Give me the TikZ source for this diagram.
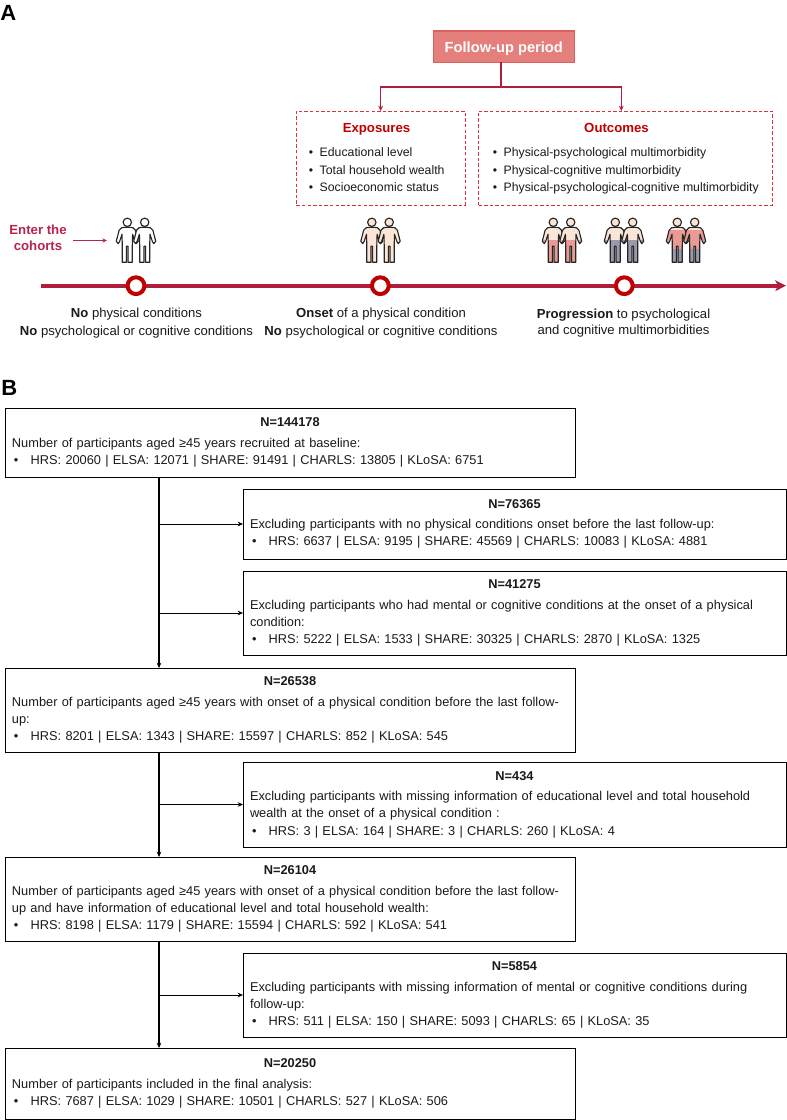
\documentclass[tikz,border=0pt]{standalone}
\usepackage{fontspec}
\setmainfont{Liberation Sans}
\usetikzlibrary{arrows.meta}
\usetikzlibrary{positioning}

\definecolor{lineRed}{HTML}{B01E3E}
\definecolor{ringRed}{HTML}{C00000}
\definecolor{dashRed}{HTML}{E0303C}
\definecolor{headRed}{HTML}{C00000}
\definecolor{enterRed}{HTML}{B8244A}
\definecolor{boxPink}{HTML}{E57F7B}
\definecolor{boxEdge}{HTML}{D9605F}
\definecolor{skinTone}{HTML}{FBE5D6}
\definecolor{pinkTone}{HTML}{E99A94}
\definecolor{greyTone}{HTML}{9C98AC}
\definecolor{darkText}{HTML}{1A1A1A}

\newcommand{\personshape}{(-2.5,5) -- (-5.8,5.5) -- (-8.2,8) -- (-11,19) -- (-9,21.3) -- (-7.6,19) -- (-5.3,12) -- (-5,23) -- (-5,40) -- (-0.8,40) -- (-0.8,24) -- (0.8,24) -- (0.8,40) -- (5,40) -- (5,23) -- (5.3,12) -- (7.6,19) -- (9,21.3) -- (11,19) -- (8.2,8) -- (5.8,5.5) -- (2.5,5) -- cycle}
\newcommand{\flowtext}[3]{\vspace*{1.5pt}{\centering\textbf{#1}\par}\vspace{1pt}\raggedright #2\par\hspace*{1.5pt}\makebox[12.5pt][l]{\textbullet}#3\par}

\tikzset{
  panellabel/.style={font=\fontsize{16.5}{18}\selectfont\bfseries,inner sep=0pt,anchor=west},
  flowbox/.style={draw=black,line width=0.65pt,inner xsep=5.25pt,inner ysep=0pt,outer sep=0pt,anchor=north west,font=\fontsize{9.6}{12.9}\selectfont,text=darkText},
  basebox/.style={flowbox,text width=417pt},
  exclbox/.style={flowbox,text width=396.75pt},
  flowline/.style={draw=black,line width=0.65pt},
  flowarrow/.style={flowline,-{Stealth[length=4pt,width=3.5pt]}},
  trunkarrow/.style={flowarrow,line width=0.85pt},
  dashbox/.style={draw=dashRed,line width=0.6pt,dash pattern=on 2.6pt off 1.6pt,inner sep=0pt,outer sep=0pt,anchor=north west},
  redline/.style={draw=lineRed,line width=0.9pt},
  headtext/.style={font=\fontsize{9.9}{11}\selectfont\bfseries,text=headRed,inner sep=0pt,anchor=base},
  listtext/.style={font=\fontsize{9.2}{13}\selectfont,text=darkText,inner sep=0pt,anchor=west,align=left},
  steptext/.style={font=\fontsize{9.83}{13.5}\selectfont,text=darkText,inner sep=0pt,align=center},
  stepring/.style={circle,draw=ringRed,fill=white,line width=3pt,minimum size=12.6pt,inner sep=0pt,outer sep=0pt},
  personline/.style={draw=black!85,line width=0.85pt,line join=round},
  pics/couple/.style n args={5}{code={
    \foreach \headx in {-8.7,8.7}{
      \begin{scope}[shift={(\headx,0)}]
        \begin{scope}
          \clip \personshape;
          \fill[#1] (-12,0) rectangle (12,#4);
          \fill[#2] (-12,#4) rectangle (12,#5);
          \fill[#3] (-12,#5) rectangle (12,41);
        \end{scope}
        \draw[personline] \personshape;
        \draw[personline,fill=#1] (0,0) circle (4.2);
      \end{scope}
    }
  }},
}

\begin{document}
\begin{tikzpicture}[x=0.75pt,y=-0.75pt]
\useasboundingbox (0,0) rectangle (787,1120);

\node[panellabel] (labelA) at (0,13) {A};
\node[panellabel] (labelB) at (1,388) {B};

% follow-up period
\node[draw=boxEdge,fill=boxPink,line width=0.8pt,minimum width=105.75pt,minimum height=23.6pt,inner sep=0pt,outer sep=0pt,anchor=north west,text=white,text height=8.2pt,text depth=0pt,font=\fontsize{11}{13}\selectfont\bfseries] (follow) at (433.3,31) {Follow-up period};
\node[dashbox,minimum width=126.5pt,minimum height=70.6pt] (exposures) at (296.3,111) {};
\node[dashbox,minimum width=220.2pt,minimum height=70.6pt] (outcomes) at (478.5,111) {};
\coordinate (split) at (501,87);
\draw[redline] (follow.south -| split) -- (split);
\draw[redline,-{Stealth[length=4pt,width=3.6pt]}] (split) -| (exposures.north);
\draw[redline,-{Stealth[length=4pt,width=3.6pt]}] (split) -| ([xshift=-3pt]outcomes.north);

\node[headtext] (exphead) at (376.5,132.3) {Exposures};
\node[headtext] (outhead) at (616.5,132.6) {Outcomes};
\node[listtext] (explist) at (308.5,169.7) {\textbullet\hspace{5pt}Educational level\\\textbullet\hspace{5pt}Total household wealth\\\textbullet\hspace{5pt}Socioeconomic status};
\node[listtext] (outlist) at (492.5,171) {\textbullet\hspace{5pt}Physical-psychological multimorbidity\\\textbullet\hspace{5pt}Physical-cognitive multimorbidity\\\textbullet\hspace{5pt}Physical-psychological-cognitive multimorbidity};

% people
\pic (groupA) at (136,222.3) {couple={white}{white}{white}{10}{20}};
\pic (groupB) at (380.5,222.3) {couple={skinTone}{skinTone}{skinTone}{10}{20}};
\pic (groupC) at (562,222.3) {couple={skinTone}{skinTone}{pinkTone}{10}{17.7}};
\pic (groupD) at (624,222.3) {couple={skinTone}{skinTone}{greyTone}{10}{17.7}};
\pic (groupE) at (686,222.3) {couple={skinTone}{pinkTone}{greyTone}{8}{27}};

\node[font=\fontsize{9.9}{11.8}\selectfont\bfseries,text=enterRed,inner sep=0pt,align=center] (enter) at (38,237.5) {Enter the\\cohorts};
\coordinate (enterEnd) at (107,240.5);
\draw[draw=enterRed,line width=0.7pt,-{Stealth[length=3.5pt,width=3.2pt]}] (enter.east |- enterEnd) ++(6,0) -- (enterEnd);

% timeline
\coordinate (lineStart) at (41,285.7);
\coordinate (lineEnd) at (786,285.7);
\draw[draw=lineRed,line width=2.7pt,-{Stealth[length=8pt,width=8pt,inset=2pt]}] (lineStart) -- (lineEnd);
\node[stepring] (stepA) at (136,285.7) {};
\node[stepring] (stepB) at (380.3,285.7) {};
\node[stepring] (stepC) at (624.3,285.7) {};

\node[steptext] (textA) at (136.5,323) {\textbf{No} physical conditions\\\textbf{No} psychological or cognitive conditions};
\node[steptext] (textB) at (381,323) {\textbf{Onset} of a physical condition\\\textbf{No} psychological or cognitive conditions};
\node[steptext,font=\fontsize{9.83}{11.9}\selectfont] (textC) at (623.5,323.2) {\textbf{Progression} to psychological\\and cognitive multimorbidities};

% flow chart
\coordinate (trunk) at (159,0);
\node[basebox,minimum height=51.75pt] (recruited) at (5,408) {\flowtext{N=144178}{Number of participants aged ≥45 years recruited at baseline:}{HRS: 20060 | ELSA: 12071 | SHARE: 91491 | CHARLS: 13805 | KLoSA: 6751}};
\node[exclbox,minimum height=52.5pt] (exclA) at (243,489) {\flowtext{N=76365}{Excluding participants with no physical conditions onset before the last follow-up:}{HRS: 6637 | ELSA: 9195 | SHARE: 45569 | CHARLS: 10083 | KLoSA: 4881}};
\node[exclbox,minimum height=63pt] (exclB) at (243,571) {\flowtext{N=41275}{Excluding participants who had mental or cognitive conditions at the onset of a physical\\condition:}{HRS: 5222 | ELSA: 1533 | SHARE: 30325 | CHARLS: 2870 | KLoSA: 1325}};
\node[basebox,minimum height=63pt] (onset) at (5,668) {\flowtext{N=26538}{Number of participants aged ≥45 years with onset of a physical condition before the last follow-\\up:}{HRS: 8201 | ELSA: 1343 | SHARE: 15597 | CHARLS: 852 | KLoSA: 545}};
\node[exclbox,minimum height=63.75pt] (exclC) at (243,762) {\flowtext{N=434}{Excluding participants with missing information of educational level and total household\\wealth at the onset of a physical condition :}{HRS: 3 | ELSA: 164 | SHARE: 3 | CHARLS: 260 | KLoSA: 4}};
\node[basebox,minimum height=63pt] (informed) at (5,857) {\flowtext{N=26104}{Number of participants aged ≥45 years with onset of a physical condition before the last follow-\\up and have information of educational level and total household wealth:}{HRS: 8198 | ELSA: 1179 | SHARE: 15594 | CHARLS: 592 | KLoSA: 541}};
\node[exclbox,minimum height=63pt] (exclD) at (243,953) {\flowtext{N=5854}{Excluding participants with missing information of mental or cognitive conditions during\\follow-up:}{HRS: 511 | ELSA: 150 | SHARE: 5093 | CHARLS: 65 | KLoSA: 35}};
\node[basebox,minimum height=53.25pt] (final) at (5,1048) {\flowtext{N=20250}{Number of participants included in the final analysis:}{HRS: 7687 | ELSA: 1029 | SHARE: 10501 | CHARLS: 527 | KLoSA: 506}};

\draw[trunkarrow] (recruited.south -| trunk) -- (onset.north -| trunk);
\draw[trunkarrow] (onset.south -| trunk) -- (informed.north -| trunk);
\draw[trunkarrow] (informed.south -| trunk) -- (final.north -| trunk);
\draw[flowarrow] (exclA.west -| trunk) -- (exclA.west);
\draw[flowarrow] (exclB.west -| trunk) -- (exclB.west);
\draw[flowarrow] (exclC.west -| trunk) -- (exclC.west);
\draw[flowarrow] (exclD.west -| trunk) -- (exclD.west);

\end{tikzpicture}
\end{document}
